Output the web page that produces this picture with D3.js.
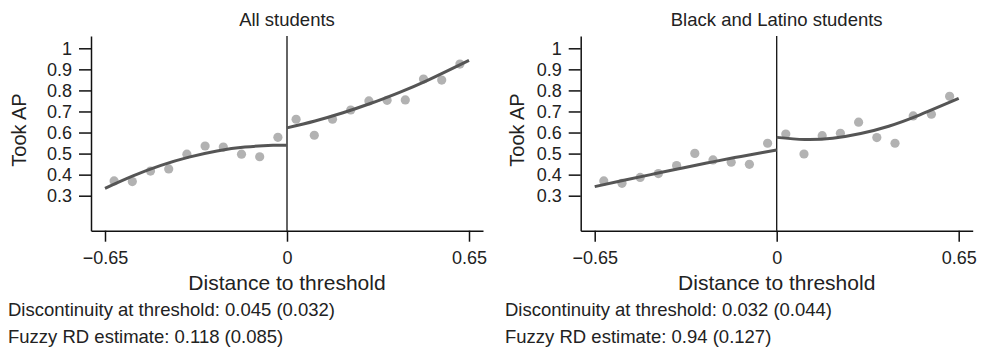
<!DOCTYPE html>
<html>
<head>
<meta charset="utf-8">
<script src="https://cdn.jsdelivr.net/npm/d3@7"></script>
<style>
  html, body { margin: 0; padding: 0; background: #fff; }
  svg { display: block; }
  text { font-family: "Liberation Sans", Arial, Helvetica, sans-serif; fill: #222; }
</style>
</head>
<body>
<svg id="chart" width="982" height="351"></svg>
<script>
// ---- Data ----
const binCenters = [-0.6175, -0.5525, -0.4875, -0.4225, -0.3575, -0.2925, -0.2275, -0.1625, -0.0975, -0.0325,
                     0.0325,  0.0975,  0.1625,  0.2275,  0.2925,  0.3575,  0.4225,  0.4875,  0.5525,  0.6175];
const allStudents = [0.370, 0.367, 0.417, 0.427, 0.497, 0.536, 0.531, 0.497, 0.485, 0.577,
                     0.663, 0.587, 0.663, 0.707, 0.750, 0.753, 0.755, 0.854, 0.849, 0.925];
const blackLatino = [0.370, 0.359, 0.387, 0.405, 0.443, 0.501, 0.470, 0.459, 0.449, 0.549,
                     0.593, 0.498, 0.585, 0.596, 0.649, 0.576, 0.549, 0.679, 0.687, 0.772];

// fitted curves
const fitXBelow = [-0.65, -0.55, -0.45, -0.35, -0.25, -0.15, -0.05, 0];
const fitXAbove = [0, 0.1, 0.2, 0.3, 0.4, 0.5, 0.65];
const fitAllBelow = [0.335, 0.394, 0.444, 0.483, 0.512, 0.531, 0.539, 0.540];
const fitAllAbove = [0.622, 0.655, 0.694, 0.739, 0.790, 0.847, 0.943];
const fitBLBelow  = [0.343, 0.372, 0.400, 0.428, 0.455, 0.481, 0.505, 0.517];
const fitBLAbove  = [0.577, 0.567, 0.573, 0.595, 0.630, 0.678, 0.762];

const xTicks = [-0.65, 0, 0.65];
const xTickLabels = ["\u22120.65", "0", "0.65"];
const yTicks = [0.3, 0.4, 0.5, 0.6, 0.7, 0.8, 0.9, 1];
const yTickLabels = ["0.3", "0.4", "0.5", "0.6", "0.7", "0.8", "0.9", "1"];

const panelTitles = ["All students", "Black and Latino students"];
const yLabel = "Took AP";
const xLabel = "Distance to threshold";
const notesAll = ["Discontinuity at threshold: 0.045 (0.032)", "Fuzzy RD estimate: 0.118 (0.085)"];
const notesBL  = ["Discontinuity at threshold: 0.032 (0.044)", "Fuzzy RD estimate: 0.94 (0.127)"];

// ---- Layout ----
const svg = d3.select("#chart");
const panels = [
  { left: 91,    title: panelTitles[0], pts: allStudents, below: fitAllBelow, above: fitAllAbove, notes: notesAll, noteX: 8,   yLabX: 26 },
  { left: 580.7, title: panelTitles[1], pts: blackLatino, below: fitBLBelow,  above: fitBLAbove,  notes: notesBL,  noteX: 505, yLabX: 524 }
];
const plotW = 392, plotTop = 36, plotBottom = 230.7;

panels.forEach(p => {
  const x = d3.scaleLinear().domain([-0.7, 0.7]).range([p.left, p.left + plotW]);
  const y = d3.scaleLinear().domain([0.1338, 1.0584]).range([plotBottom, plotTop]);
  const g = svg.append("g");

  // zero line
  g.append("line")
    .attr("x1", x(0)).attr("x2", x(0)).attr("y1", y(1.0584)).attr("y2", y(0.1338))
    .attr("stroke", "#111").attr("stroke-width", 1.3);

  // points
  g.selectAll("circle").data(binCenters).join("circle")
    .attr("cx", (d) => x(d))
    .attr("cy", (d, i) => y(p.pts[i]))
    .attr("r", 4.6)
    .attr("fill", "#b2b2b2");

  // fit lines
  const line = d3.line().x(d => x(d[0])).y(d => y(d[1])).curve(d3.curveNatural);
  g.append("path").datum(fitXBelow.map((v, i) => [v, p.below[i]]))
    .attr("d", line).attr("fill", "none").attr("stroke", "#555").attr("stroke-width", 3);
  g.append("path").datum(fitXAbove.map((v, i) => [v, p.above[i]]))
    .attr("d", line).attr("fill", "none").attr("stroke", "#555").attr("stroke-width", 3);

  // axes
  const xAxis = d3.axisBottom(x).tickValues(xTicks).tickFormat((d, i) => xTickLabels[i])
    .tickSize(11).tickSizeOuter(0).tickPadding(10);
  const gx = g.append("g").attr("transform", `translate(0,${plotBottom})`).call(xAxis);
  const yAxis = d3.axisLeft(y).tickValues(yTicks).tickFormat((d, i) => yTickLabels[i])
    .tickSize(12).tickSizeOuter(0).tickPadding(7);
  const gy = g.append("g").attr("transform", `translate(${p.left},0)`).call(yAxis);
  [gx, gy].forEach(a => {
    a.select(".domain").attr("stroke", "#111").attr("stroke-width", 1.5);
    a.selectAll(".tick line").attr("stroke", "#111").attr("stroke-width", 1.5);
    a.selectAll(".tick text").attr("font-size", 18).attr("fill", "#222")
      .attr("font-family", "Liberation Sans, Arial, sans-serif");
  });

  // title
  g.append("text").attr("x", x(0)).attr("y", 25.5).attr("text-anchor", "middle")
    .attr("font-size", 18.5).text(p.title);
  // x label
  g.append("text").attr("x", x(0)).attr("y", 290).attr("text-anchor", "middle")
    .attr("font-size", 21).text(xLabel);
  // y label
  g.append("text").attr("transform", `translate(${p.yLabX},${130}) rotate(-90)`)
    .attr("text-anchor", "middle").attr("font-size", 20).text(yLabel);
  // notes
  p.notes.forEach((t, i) => {
    g.append("text").attr("x", p.noteX).attr("y", 316 + i * 27).attr("font-size", 18.5).text(t);
  });
});
</script>
</body>
</html>
